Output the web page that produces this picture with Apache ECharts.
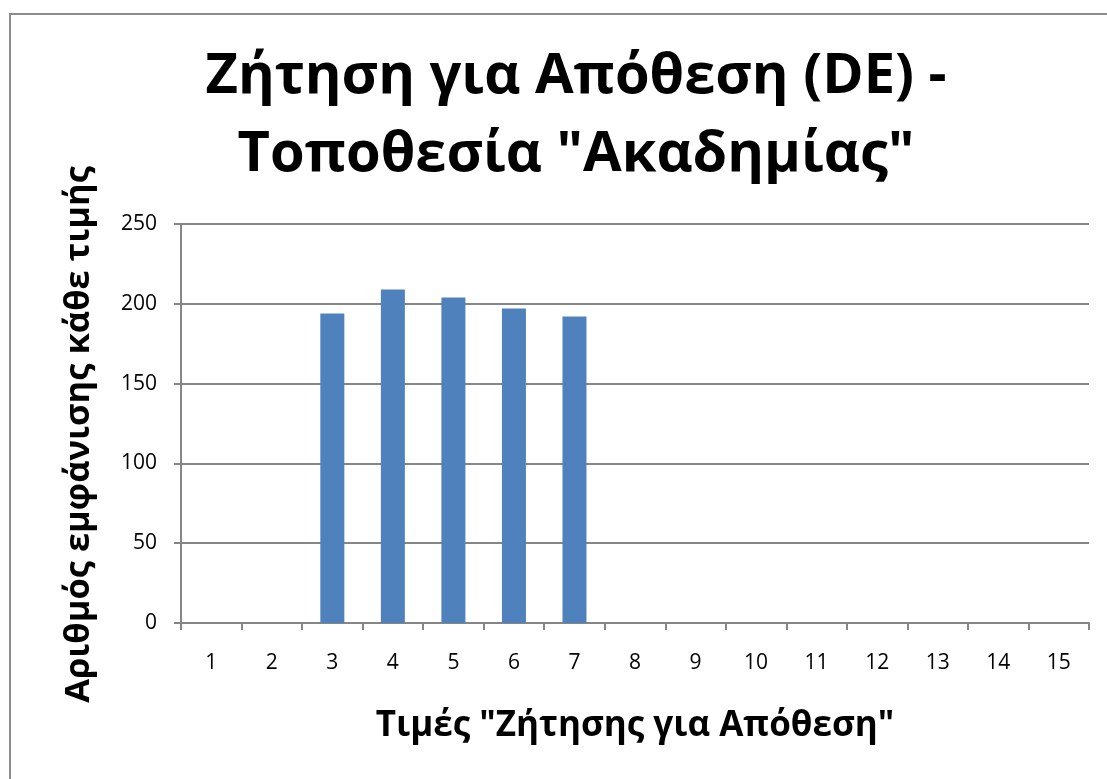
<!DOCTYPE html>
<html><head><meta charset="utf-8">
<script src="https://cdn.jsdelivr.net/npm/echarts@6/dist/echarts.min.js"></script>
<style>html,body{margin:0;padding:0;background:#fff}#c{width:1107px;height:779px}</style>
</head><body><div id="c"></div>
<script>
const titleText = 'Ζήτηση για Απόθεση (DE) -\nΤοποθεσία "Ακαδημίας"';
const xAxisTitle = 'Τιμές "Ζήτησης για Απόθεση"';
const yAxisTitle = 'Αριθμός εμφάνισης κάθε τιμής';
const categories = ['1','2','3','4','5','6','7','8','9','10','11','12','13','14','15'];
const counts = [0,0,194,209,204,197,192,0,0,0,0,0,0,0,0];
const yTicks = [0,50,100,150,200,250];

const chart = echarts.init(document.getElementById('c'));
const font = '"Open Sans", "Noto Sans", sans-serif';
chart.setOption({
  animation:false,
  backgroundColor:'#fff',
  graphic:[{type:'rect',shape:{x:10,y:14,width:1120,height:800},style:{fill:'none',stroke:'#8c8c8c',lineWidth:2},z:-1}],
  title:{text:titleText,left:571,top:33,textAlign:'center',
    textStyle:{fontFamily:font,fontWeight:'bold',fontSize:56,lineHeight:78,color:'#000'}},
  grid:{left:181,right:18,top:224,bottom:156,containLabel:false},
  xAxis:{type:'category',data:categories,
    name:xAxisTitle,nameLocation:'middle',nameGap:86,
    nameTextStyle:{fontFamily:font,fontWeight:'bold',fontSize:35,color:'#000'},
    axisLine:{lineStyle:{color:'#868686',width:2}},
    axisTick:{show:true,alignWithLabel:false,length:7,lineStyle:{color:'#868686',width:2}},
    axisLabel:{fontFamily:font,fontSize:21,color:'#000',margin:30}},
  yAxis:{type:'value',min:yTicks[0],max:yTicks[yTicks.length-1],interval:50,
    name:yAxisTitle,nameLocation:'middle',nameGap:84,nameRotate:90,
    nameTextStyle:{fontFamily:font,fontWeight:'bold',fontSize:34.5,color:'#000',padding:[0,22,0,0]},
    axisLine:{show:true,lineStyle:{color:'#868686',width:2}},
    axisTick:{show:true,inside:false,length:7,lineStyle:{color:'#868686',width:2}},
    axisLabel:{fontFamily:font,fontSize:21,color:'#000',margin:24},
    splitLine:{lineStyle:{color:'#868686',width:2}}},
  series:[{type:'bar',data:counts,barWidth:24,itemStyle:{color:'#4f81bd'}}]
});
</script></body></html>
